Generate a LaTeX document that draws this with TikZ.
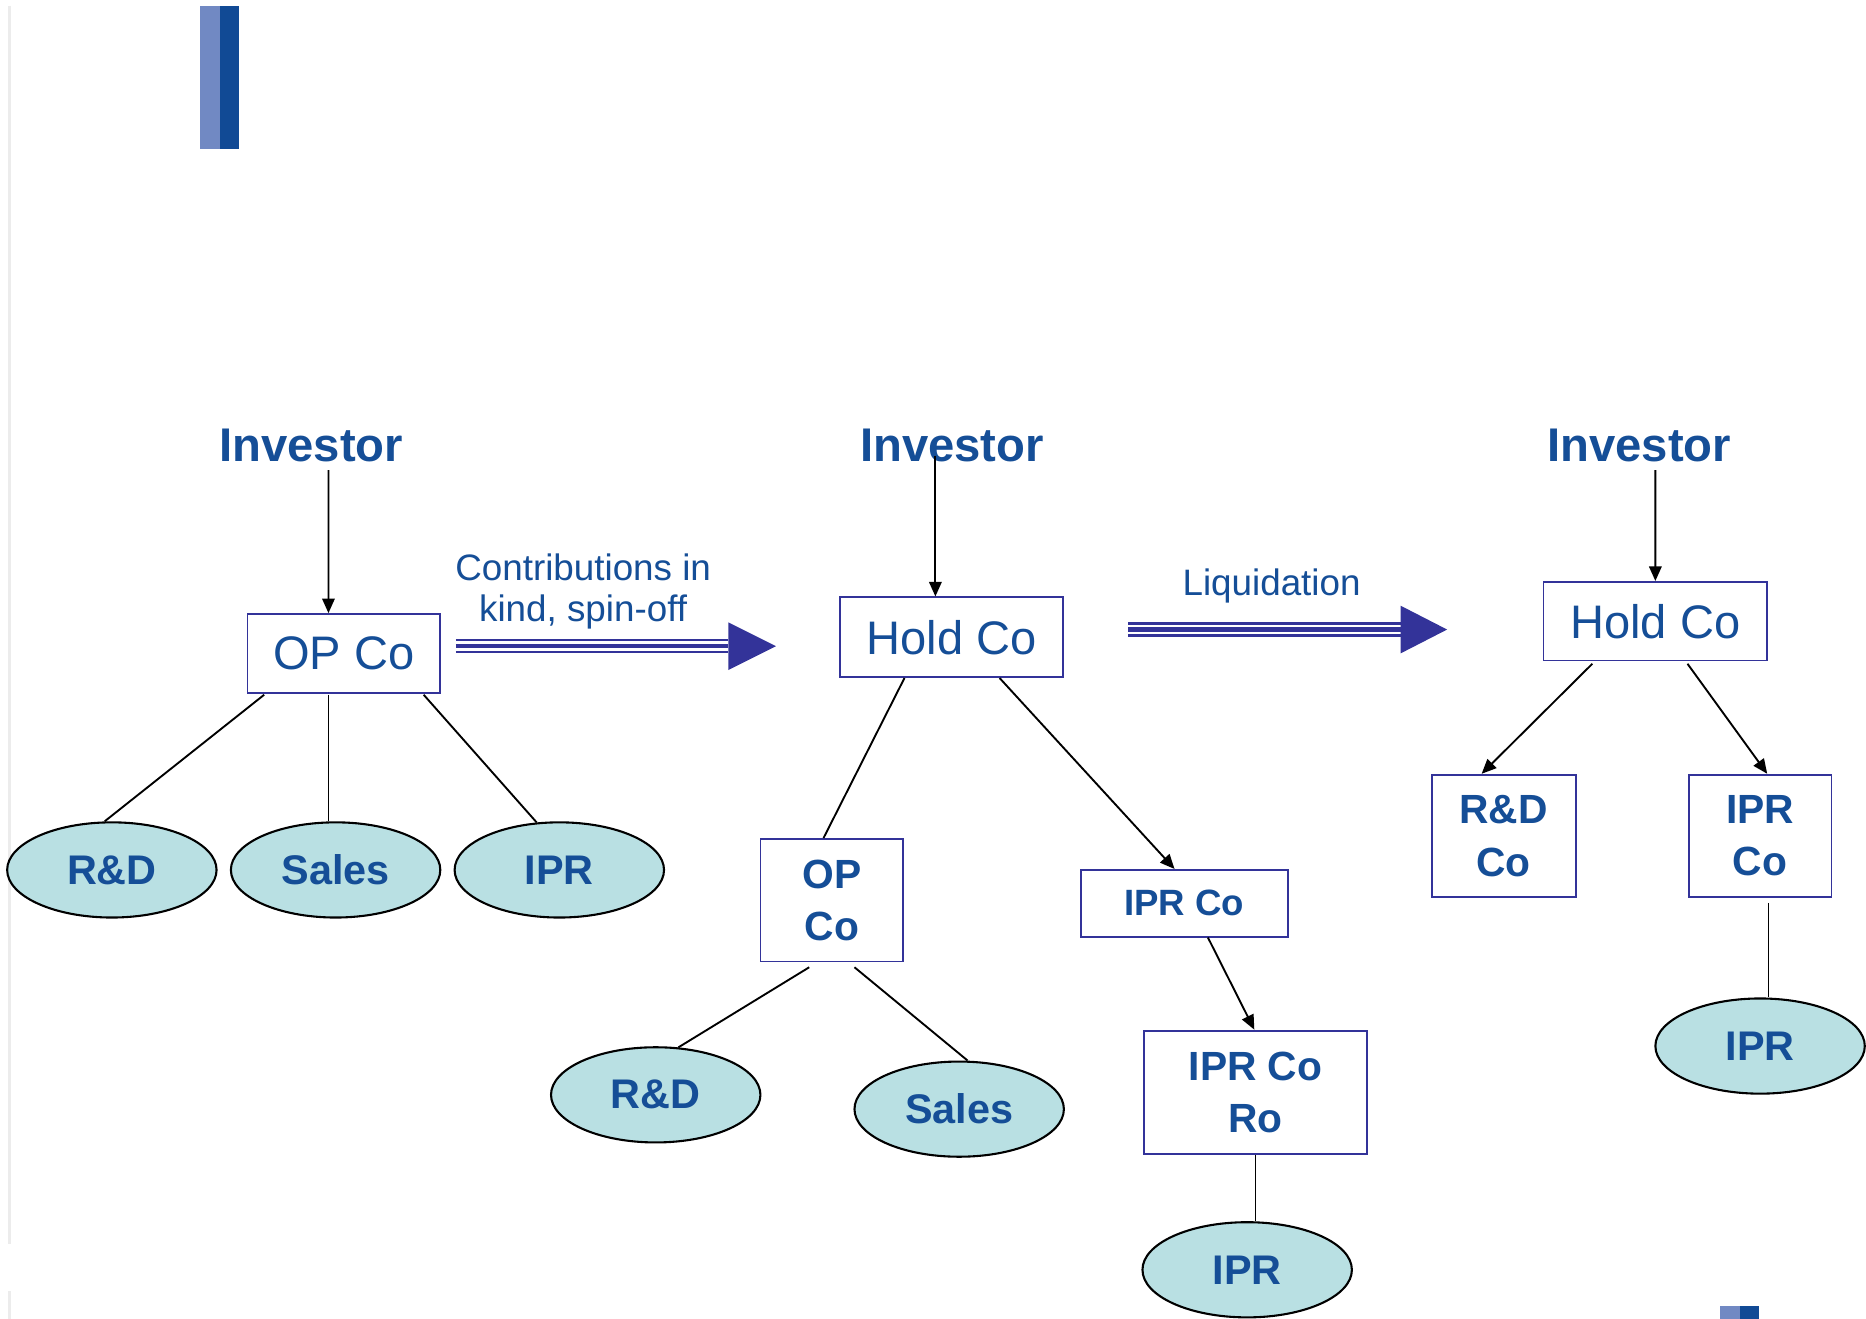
\documentclass[tikz,border=0pt]{standalone}
\usepackage{fontspec}
\setmainfont{Liberation Sans}
\usetikzlibrary{shapes.geometric,arrows.meta,calc}
\definecolor{txtblue}{RGB}{21,78,151}
\definecolor{boxblue}{RGB}{51,51,153}
\definecolor{arrowblue}{RGB}{51,51,153}
\definecolor{ovalfill}{RGB}{185,224,227}
\definecolor{barlight}{RGB}{113,137,195}
\definecolor{bardark}{RGB}{17,74,149}
\definecolor{edgegray}{RGB}{236,236,236}
\begin{document}
\begin{tikzpicture}[x=0.02cm,y=-0.02cm,
  box/.style={draw=boxblue, line width=0.9pt, fill=white, inner sep=0pt, align=center, text=txtblue},
  bigreg/.style={font=\fontsize{22.5}{27}\selectfont},
  stackb/.style={font=\fontsize{19.5}{25}\selectfont\bfseries},
  oval/.style={ellipse, draw=black, line width=1pt, fill=ovalfill, minimum width=3.52cm, minimum height=1.6cm, inner sep=0pt, text=txtblue, font=\fontsize{19.8}{24}\selectfont\bfseries},
  invlabel/.style={anchor=base, inner sep=0pt, text=txtblue, font=\fontsize{22.6}{27}\selectfont\bfseries},
  steplabel/.style={inner sep=0pt, text=txtblue, align=center, font=\fontsize{17.6}{20}\selectfont},
  link/.style={draw=black, line width=0.9pt},
  arr/.style={link, -{Triangle[length=7pt,width=6pt]}},
  bigline/.style={draw=arrowblue}
]
\useasboundingbox (0,0) rectangle (1568,1108);
\fill[white] (0,0) rectangle (1568,1108);

% slide decorations
\draw[edgegray, line width=1.2pt] (8,5) -- (8,1045);
\draw[edgegray, line width=1.2pt] (8,1085) -- (8,1108);
\fill[barlight] (168,5) rectangle (185,125);
\fill[bardark] (185,5) rectangle (201,125);
\fill[barlight] (1445,1097) rectangle (1462,1108);
\fill[bardark] (1462,1097) rectangle (1478,1108);

% ---------- stage 1 ----------
\node[invlabel] (inv1) at (261.5,388) {Investor};
\node[box, bigreg, minimum width=3.24cm, minimum height=1.32cm] (opco) at (289,549) {OP Co};
\node[oval] (rd1) at (94,731) {R\&D};
\node[oval] (sales1) at (282,731) {Sales};
\node[oval] (ipr1) at (470,731) {IPR};

\draw[arr] ($(inv1.base)+(14.5,7)$) -- ($(opco.north)+(-13,0)$);
\draw[link] ($(opco.south)+(-67,1)$) -- ($(rd1.north)+(-6,0)$);
\draw[link] ($(opco.south)+(-13,1)$) -- ($(sales1.north)+(-6,0)$);
\draw[link] ($(opco.south)+(67,1)$) -- ($(ipr1.north)+(-19,1)$);

% transition arrow 1
\node[steplabel, baseline=0pt] (contrib) at (490,497) {Contributions in\\kind, spin-off};
\coordinate (c1s) at (383,543);
\coordinate (c1h) at (612,543);
\coordinate (c1e) at (652,543);
\foreach \dy/\w in {-5/1.1pt,0/2pt,5/1.2pt}
  \draw[bigline, line width=\w] ($(c1s)+(0,\dy)$) -- ($(c1h)+(0,\dy)$);
\fill[arrowblue] ($(c1h)+(0,-20)$) -- (c1e) -- ($(c1h)+(0,20)$) -- cycle;

% ---------- stage 2 ----------
\node[invlabel] (inv2) at (800,388) {Investor};
\node[box, bigreg, minimum width=3.74cm, minimum height=1.34cm] (hold1) at (799.5,535.5) {Hold Co};
\node[box, stackb, minimum width=2.4cm, minimum height=2.06cm] (opco2) at (699,756.5) {OP\\Co};
\node[box, font=\fontsize{17.5}{21}\selectfont\bfseries, minimum width=3.48cm, minimum height=1.12cm] (iprco) at (995,759) {IPR Co};
\node[box, stackb, minimum width=3.76cm, minimum height=2.08cm] (iprro) at (1055,918) {IPR Co\\Ro};
\node[oval] (rd2) at (551,920) {R\&D};
\node[oval] (sales2) at (806,932) {Sales};
\node[oval] (ipr2) at (1048,1067) {IPR};

\draw[arr] ($(inv2.base)+(-14,-5)$) -- ($(hold1.north)+(-13.5,0)$);
\draw[link] ($(hold1.south)+(-39.5,0)$) -- ($(opco2.north)+(-7,0)$);
\draw[arr] ($(hold1.south)+(40.5,0)$) -- ($(iprco.north)+(-8,0)$);
\draw[link] ($(opco2.south)+(-19,4)$) -- ($(rd2.north)+(19,1)$);
\draw[link] ($(opco2.south)+(19,4)$) -- ($(sales2.north)+(7,0)$);
\draw[arr] ($(iprco.south)+(20,0)$) -- ($(iprro.north)+(-1,0)$);
\draw[link] (iprro.south) -- ($(ipr2.north)+(7,0)$);

% transition arrow 2
\node[steplabel, anchor=base] (liq) at (1068.5,500.6) {Liquidation};
\coordinate (c2s) at (948,529);
\coordinate (c2h) at (1177,529);
\coordinate (c2e) at (1216,529);
\foreach \dy/\w in {-5/1.1pt,0/2pt,5/1.2pt}
  \draw[bigline, line width=\w] ($(c2s)+(0,\dy)$) -- ($(c2h)+(0,\dy)$);
\fill[arrowblue] ($(c2h)+(0,-20)$) -- (c2e) -- ($(c2h)+(0,20)$) -- cycle;

% ---------- stage 3 ----------
\node[invlabel] (inv3) at (1377.5,388) {Investor};
\node[box, bigreg, minimum width=3.76cm, minimum height=1.32cm] (hold2) at (1391,522) {Hold Co};
\node[box, stackb, minimum width=2.42cm, minimum height=2.06cm] (rdco) at (1263.5,702.5) {R\&D\\Co};
\node[box, stackb, minimum width=2.4cm, minimum height=2.06cm] (iprco2) at (1479,702.5) {IPR\\Co};
\node[oval] (ipr3) at (1479,879) {IPR};

\draw[arr] ($(inv3.base)+(13.5,7)$) -- (hold2.north);
\draw[arr] ($(hold2.south)+(-53,2)$) -- ($(rdco.north)+(-18.5,0)$);
\draw[arr] ($(hold2.south)+(27,2)$) -- ($(iprco2.north)+(6,0)$);
\draw[link] ($(iprco2.south)+(7,4)$) -- ($(ipr3.north)+(7,0)$);
\end{tikzpicture}
\end{document}
